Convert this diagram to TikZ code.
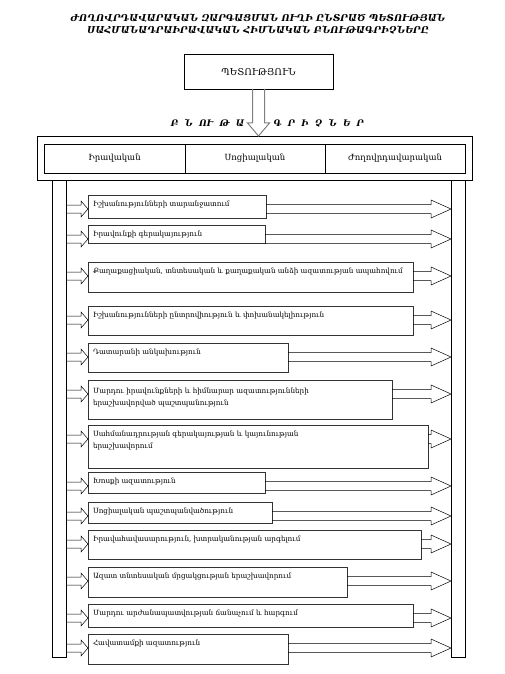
\documentclass[tikz,border=0pt]{standalone}
\usepackage{fontspec}
\setmainfont{DejaVu Serif}
\usetikzlibrary{calc}

\tikzset{
  itembox/.style={draw=black!80,line width=0.9pt,anchor=north west,inner xsep=5pt,inner ysep=0pt,outer sep=0pt,font=\fontsize{7.2}{12}\selectfont},
  headcell/.style={draw,line width=0.8pt,anchor=north west,inner sep=0pt,outer sep=0pt,minimum height=29pt,font=\fontsize{8.5}{10}\selectfont},
  bar/.style={draw,line width=0.9pt,anchor=north west,inner sep=0pt,outer sep=0pt,minimum width=14pt,minimum height=477pt},
  hollow/.style={draw,line width=0.5pt},
  spaced/.style={font=\fontsize{9}{10}\selectfont\bfseries\itshape}
}

\begin{document}
\begin{tikzpicture}[x=1pt,y=-1pt]
\useasboundingbox (0,0) rectangle (505,674);
\node[anchor=north,align=center,font=\fontsize{9.5}{12.5}\selectfont\bfseries\itshape] (title) at (258,10)
  {ԺՈՂՈՎՐԴԱՎԱՐԱԿԱՆ ԶԱՐԳԱՑՄԱՆ ՈՒՂԻ ԸՆՏՐԱԾ ՊԵՏՈՒԹՅԱՆ\\ՍԱՀՄԱՆԱԴՐԱԻՐԱՎԱԿԱՆ ՀԻՄՆԱԿԱՆ ԲՆՈՒԹԱԳՐԻՉՆԵՐԸ};
\node[draw,line width=0.9pt,anchor=north west,outer sep=0pt,minimum width=149pt,minimum height=35pt,font=\fontsize{9.5}{10}\selectfont] (state) at (184,54) {ՊԵՏՈՒԹՅՈՒՆ};
% table of the three features
\node[draw,line width=1pt,anchor=north west,inner sep=0pt,outer sep=0pt,minimum width=435pt,minimum height=44pt] (frame) at (37,136) {};
\node[headcell,minimum width=141pt] (legal) at (44,144) {Իրավական};
\node[headcell,minimum width=140pt] (social) at (legal.north east) {Սոցիալական};
\node[headcell,minimum width=140pt] (democ) at (social.north east) {Ժողովրդավարական};
\draw[gray,line width=1pt] let \p1=(state.south), \p2=(frame.north) in
  ({\x1-6pt},\y1) -- ({\x1-6pt},{\y2+13pt}) -- ({\x1-11pt},{\y2+13pt}) -- (\x1,\y2)
  -- ({\x1+11pt},{\y2+13pt}) -- ({\x1+6pt},{\y2+13pt}) -- ({\x1+6pt},\y1);
\node[spaced,anchor=base east] (lblL) at (248,126) {Բ~~Ն~~ՈՒ~~Թ~~Ա};
\node[spaced,anchor=base west] (lblR) at (270,126) {Գ~~Ր~~Ի~~Չ~~Ն~~Ե~~Ր};
\node[bar] (lbar) at (52,180) {};
\node[bar] (rbar) at (451,180) {};
% the list
\node[itembox] (b1) at (88,195) {\parbox[c][23pt][t]{168pt}{\raggedright\rule{0pt}{11pt}Իշխանությունների տարանջատում}};
\node[itembox] (b2) at (88,225) {\parbox[c][18pt][t]{167pt}{\raggedright\rule{0pt}{11pt}Իրավունքի գերակայություն}};
\node[itembox] (b3) at (88,262) {\parbox[c][30pt][t]{315pt}{\raggedright\rule{0pt}{11pt}Քաղաքացիական, տնտեսական և քաղաքական անձի ազատության ապահովում}};
\node[itembox] (b4) at (88,306) {\parbox[c][29pt][t]{315pt}{\raggedright\rule{0pt}{11pt}Իշխանությունների ընտրովիություն և փոխանակելիություն}};
\node[itembox] (b5) at (88,343) {\parbox[c][29pt][t]{190pt}{\raggedright\rule{0pt}{11pt}Դատարանի անկախություն}};
\node[itembox] (b6) at (88,380) {\parbox[c][39pt][t]{294pt}{\raggedright\rule{0pt}{13pt}Մարդու իրավունքների և հիմնարար ազատությունների\\երաշխավորված պաշտպանություն}};
\node[itembox] (b7) at (88,425) {\parbox[c][43pt][t]{330pt}{\raggedright\rule{0pt}{11pt}Սահմանադրության գերակայության և կայունության\\երաշխավորում}};
\node[itembox] (b8) at (88,472) {\parbox[c][21pt][t]{167pt}{\raggedright\rule{0pt}{11pt}Խոսքի ազատություն}};
\node[itembox] (b9) at (88,502) {\parbox[c][21pt][t]{174pt}{\raggedright\rule{0pt}{11pt}Սոցիալական պաշտպանվածություն}};
\node[itembox] (b10) at (88,530) {\parbox[c][29pt][t]{323pt}{\raggedright\rule{0pt}{11pt}Իրավահավասարություն, խտրականության արգելում}};
\node[itembox] (b11) at (88,567) {\parbox[c][30pt][t]{249pt}{\raggedright\rule{0pt}{11pt}Ազատ տնտեսական մրցակցության երաշխավորում}};
\node[itembox] (b12) at (88,604) {\parbox[c][23pt][t]{315pt}{\raggedright\rule{0pt}{11pt}Մարդու արժանապատվության ճանաչում և հարգում}};
\node[itembox] (b13) at (88,634) {\parbox[c][30pt][t]{190pt}{\raggedright\rule{0pt}{11pt}Հավատամքի ազատություն}};
\foreach \i in {1,...,13}{
  \draw[hollow] let \p1=(b\i.north west), \p2=(lbar.east) in
    (\x2,{\y1-10pt}) -- ({\x1-7pt},{\y1-10pt}) -- ({\x1-7pt},{\y1-6pt}) -- (\x1,{\y1-14pt})
    -- ({\x1-7pt},{\y1-22pt}) -- ({\x1-7pt},{\y1-18pt}) -- (\x2,{\y1-18pt});
  \draw[hollow] let \p1=(b\i.north east), \p2=(rbar.west) in
    (\x1,{\y1-9.5pt}) -- ({\x2-20pt},{\y1-9.5pt}) -- ({\x2-20pt},{\y1-5pt}) -- (\x2,{\y1-14pt})
    -- ({\x2-20pt},{\y1-23pt}) -- ({\x2-20pt},{\y1-18.5pt}) -- (\x1,{\y1-18.5pt});
}
\end{tikzpicture}
\end{document}
